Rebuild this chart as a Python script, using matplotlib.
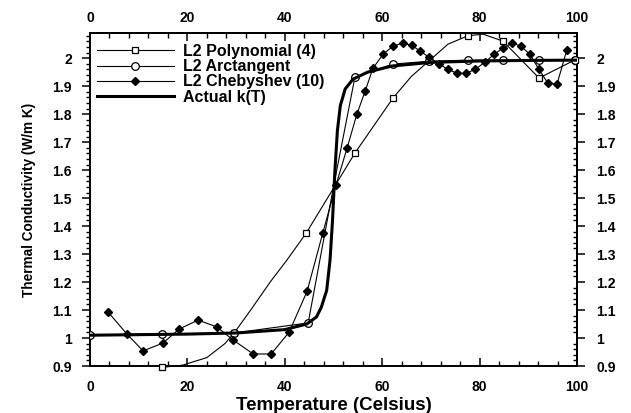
import matplotlib
matplotlib.use("Agg")
import matplotlib.pyplot as plt
from matplotlib.ticker import MultipleLocator, FixedLocator, FuncFormatter

# --- data -------------------------------------------------------------
# L2 polynomial fit (degree 4)
poly_t = [14.8, 19.0, 24.0, 27.7, 29.6, 33.0, 37.0, 40.5, 44.4, 54.4,
          62.2, 66.0, 69.6, 73.5, 77.6, 80.7, 84.8, 92.2, 99.6]
poly_k = [0.895, 0.903, 0.930, 0.980, 1.018, 1.100, 1.200, 1.280, 1.375, 1.661,
          1.857, 1.935, 1.990, 2.050, 2.080, 2.086, 2.061, 1.929, 1.994]
poly_marks = [0, 4, 8, 9, 10, 12, 14, 16, 17, 18]

# L2 arctangent fit
atan_t = [0.0, 14.8, 29.6, 44.8, 50.0, 54.4, 62.2, 69.6, 77.6, 84.8, 92.2, 99.6]
atan_k = [1.011, 1.014, 1.018, 1.054, 1.540, 1.932, 1.979, 1.989, 1.993, 1.993, 1.993, 1.994]
atan_marks = [0, 1, 2, 3, 5, 6, 7, 8, 9, 10, 11]

# L2 Chebyshev fit (10 terms)
cheb_t = [3.7, 7.6, 10.9, 15.0, 18.3, 22.2, 26.0, 29.4, 33.5, 37.2,
          40.9, 44.6, 47.8, 50.5, 52.8, 54.8, 56.5, 58.1, 60.2, 62.2,
          64.3, 66.1, 67.8, 69.6, 71.7, 73.5, 75.4, 77.2, 79.1, 81.1,
          83.0, 84.8, 86.7, 88.5, 90.3, 92.2, 94.0, 95.9, 97.9]
cheb_k = [1.093, 1.014, 0.954, 0.982, 1.032, 1.064, 1.040, 0.993, 0.943, 0.943,
          1.021, 1.168, 1.375, 1.546, 1.679, 1.800, 1.882, 1.964, 2.014, 2.043,
          2.054, 2.046, 2.025, 2.004, 1.979, 1.960, 1.946, 1.946, 1.960, 1.986,
          2.014, 2.036, 2.054, 2.043, 2.014, 1.960, 1.911, 1.907, 2.029]

# Actual conductivity curve
act_t = [0, 10, 20, 30, 40, 44.5, 46.5, 47.5, 48.6, 49.3, 49.8, 50.3, 50.8,
         51.4, 52.4, 54, 57, 62, 70, 80, 90, 100]
act_k = [1.010, 1.012, 1.014, 1.018, 1.030, 1.050, 1.075, 1.110, 1.170, 1.280,
         1.420, 1.600, 1.740, 1.830, 1.890, 1.925, 1.950, 1.972, 1.985, 1.990,
         1.992, 1.993]

labels = ["L2 Polynomial (4)", "L2 Arctangent", "L2 Chebyshev (10)", "Actual k(T)"]

t_ticks = [0, 20, 40, 60, 80, 100]
k_ticks = [0.9, 1.0, 1.1, 1.2, 1.3, 1.4, 1.5, 1.6, 1.7, 1.8, 1.9, 2.0]

# --- figure -----------------------------------------------------------
font = "Liberation Sans"
plt.rcParams["font.family"] = [font, "DejaVu Sans"]

fig = plt.figure(figsize=(6.31, 4.13), dpi=100)
ax = fig.add_axes([0.1426, 0.1138, 0.7718, 0.8063])

ax.plot(poly_t, poly_k, color="black", lw=0.8, marker="s", ms=3.8,
        mfc="white", mec="black", mew=0.9, markevery=poly_marks,
        clip_on=False, label=labels[0], zorder=3)
ax.plot(atan_t, atan_k, color="black", lw=0.8, marker="o", ms=5.5,
        mfc="white", mec="black", mew=0.9, markevery=atan_marks,
        label=labels[1], zorder=3)
ax.plot(cheb_t, cheb_k, color="black", lw=0.8, marker="D", ms=4.4,
        mfc="black", mec="black", label=labels[2], zorder=4)
ax.plot(act_t, act_k, color="black", lw=2.2, label=labels[3], zorder=5)

ax.set_xlim(0, 100)
ax.set_ylim(0.9, 2.09)

fmt = FuncFormatter(lambda v, p: "%g" % round(v, 2))
tick_font = dict(family=[font, "DejaVu Sans"], weight="bold", size=10)

ax.xaxis.set_major_locator(FixedLocator(t_ticks))
ax.xaxis.set_minor_locator(MultipleLocator(4))
ax.yaxis.set_major_locator(FixedLocator(k_ticks))
ax.yaxis.set_minor_locator(MultipleLocator(0.02))
ax.yaxis.set_major_formatter(fmt)

ax.tick_params(axis="x", which="major", direction="in", length=6, width=1.1, pad=10)
ax.tick_params(axis="x", which="minor", direction="in", length=3.5, width=1.0)
ax.tick_params(axis="y", which="major", direction="out", length=6, width=1.1, pad=7)
ax.tick_params(axis="y", which="minor", direction="out", length=3, width=1.0)
for lab in ax.get_xticklabels() + ax.get_yticklabels():
    lab.set_fontproperties(tick_font)

# mirrored scales on the top and right
top = ax.secondary_xaxis("top")
top.xaxis.set_major_locator(FixedLocator(t_ticks))
top.xaxis.set_minor_locator(MultipleLocator(4))
top.tick_params(which="major", direction="in", length=6, width=1.1, pad=6)
top.tick_params(which="minor", direction="in", length=3.5, width=1.0)

right = ax.secondary_yaxis("right")
right.yaxis.set_major_locator(FixedLocator(k_ticks))
right.yaxis.set_minor_locator(MultipleLocator(0.02))
right.yaxis.set_major_formatter(fmt)
right.tick_params(which="major", direction="out", length=6, width=1.1, pad=8)
right.tick_params(which="minor", direction="in", length=3, width=1.0)
for lab in top.get_xticklabels() + right.get_yticklabels():
    lab.set_fontproperties(tick_font)

for sp in list(ax.spines.values()) + list(top.spines.values()) + list(right.spines.values()):
    sp.set_linewidth(1.4)

ax.set_xlabel("Temperature (Celsius)", fontsize=13.5, fontweight="bold", labelpad=2)
ax.set_ylabel("Thermal Conductivity (W/m K)", fontsize=9.8, fontweight="bold",
              labelpad=12)

leg = ax.legend(loc="upper left", bbox_to_anchor=(0.008, 0.977), frameon=False,
                handlelength=4.8, handletextpad=0.6, labelspacing=0.02,
                borderpad=0.2, borderaxespad=0.0, numpoints=1,
                prop=dict(family=[font, "DejaVu Sans"], weight="bold", size=11.5))

fig.savefig("out.png", dpi=100)
